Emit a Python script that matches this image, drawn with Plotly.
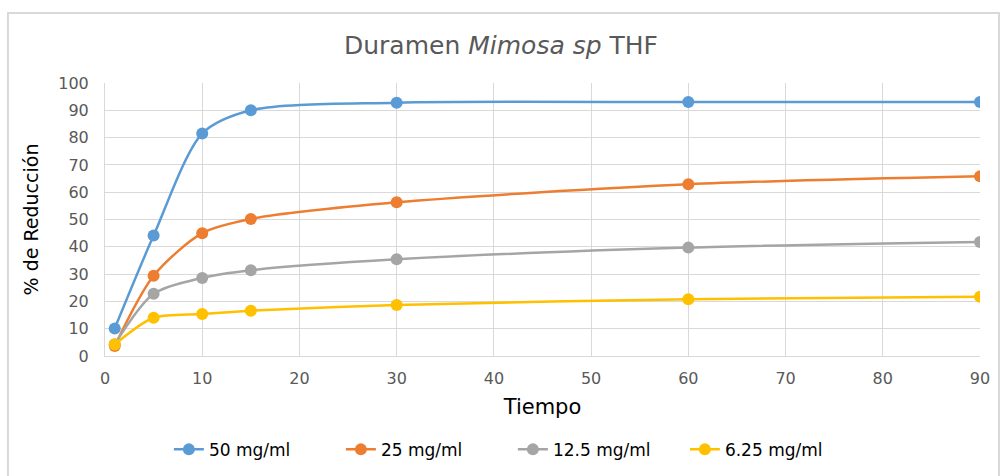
import plotly.graph_objects as go

# Tiempo (min) y % de reducción por concentración
tiempo = [1, 5, 10, 15, 30, 60, 90]
series_names = ["50 mg/ml", "25 mg/ml", "12.5 mg/ml", "6.25 mg/ml"]
red_50 = [10.1, 44.1, 81.5, 90.0, 92.8, 93.0, 93.0]
red_25 = [3.7, 29.4, 45.0, 50.2, 56.3, 62.9, 65.8]
red_125 = [4.3, 22.8, 28.6, 31.4, 35.4, 39.7, 41.8]
red_625 = [4.2, 14.0, 15.4, 16.6, 18.7, 20.8, 21.7]
colors = ["#5B9BD5", "#ED7D31", "#A5A5A5", "#FFC000"]

x_ticks = list(range(0, 91, 10))
y_ticks = list(range(0, 101, 10))

FONT = "DejaVu Sans"

fig = go.Figure()
for name, ys, c in zip(series_names, [red_50, red_25, red_125, red_625], colors):
    fig.add_trace(go.Scatter(
        x=tiempo, y=ys, name=name, mode="lines+markers",
        line=dict(color=c, width=2.5, shape="spline", smoothing=0.8),
        marker=dict(color=c, size=12),
    ))

fig.update_layout(
    width=1002, height=476,
    paper_bgcolor="white", plot_bgcolor="white",
    margin=dict(l=105, r=22, t=83, b=120, autoexpand=False),
    font=dict(family=FONT, color="#595959"),
    title=dict(
        text="Duramen <i>Mimosa sp</i> THF",
        x=0.5, xanchor="center", y=0.905, yanchor="middle",
        font=dict(size=25, color="#595959", family=FONT),
    ),
    xaxis=dict(
        range=[0, 90], tickvals=x_ticks, showgrid=True, gridcolor="#D9D9D9",
        gridwidth=1, zeroline=False, showline=True, linecolor="#D9D9D9",
        ticks="", tickfont=dict(size=16, color="#595959"), ticklabelstandoff=8,
        title=dict(text="Tiempo", font=dict(size=21, color="#000000"), standoff=12),
    ),
    yaxis=dict(
        range=[0, 100], tickvals=y_ticks, showgrid=True, gridcolor="#D9D9D9",
        gridwidth=1, zeroline=False, showline=True, linecolor="#D9D9D9",
        ticks="", tickfont=dict(size=16, color="#595959"), ticklabelstandoff=12,
        title=dict(text="% de Reducción", font=dict(size=19, color="#000000"), standoff=14),
    ),
    legend=dict(
        orientation="h", x=0.073, xanchor="left",
        yref="container", y=0.055, yanchor="middle",
        font=dict(size=17, color="#000000"), bgcolor="rgba(0,0,0,0)",
        entrywidth=127, entrywidthmode="pixels",
    ),
    showlegend=True,
)

# Chart frame
fig.add_shape(
    type="rect", xref="paper", yref="paper",
    x0=-0.1109, x1=1.0217, y0=-0.48, y1=1.2564,
    line=dict(color="#D9D9D9", width=2), fillcolor="rgba(0,0,0,0)", layer="below",
)

fig.write_html("out.html")
